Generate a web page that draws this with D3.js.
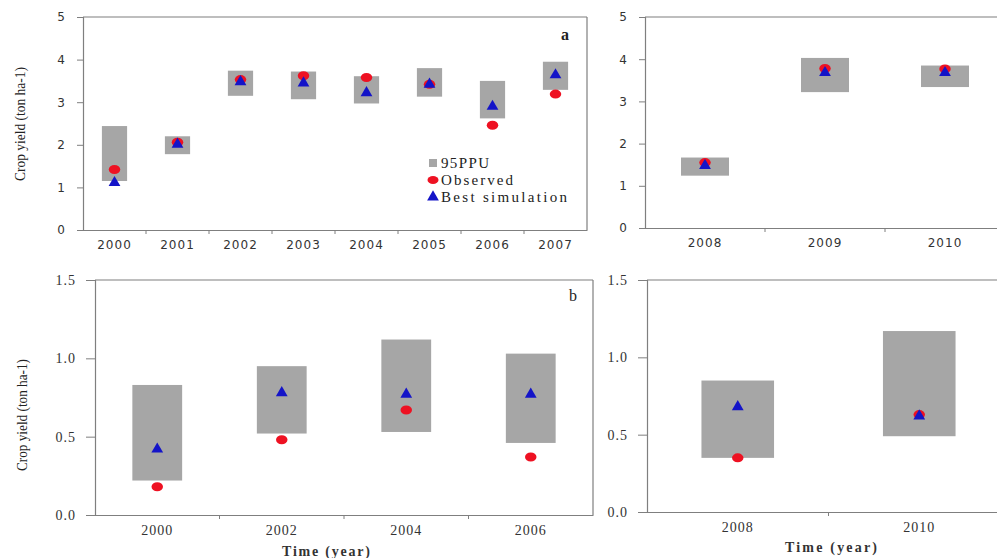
<!DOCTYPE html>
<html>
<head>
<meta charset="utf-8">
<script src="https://cdn.jsdelivr.net/npm/d3@7"></script>
<style>
  html, body { margin: 0; padding: 0; background: #fff; }
  svg { display: block; }
</style>
</head>
<body>
<svg id="chart" width="997" height="558"></svg>
<script>
// Panel a: crop yield 2000-2007 (calibration) and 2008-2010 (validation)
const yearsA1 = ["2000", "2001", "2002", "2003", "2004", "2005", "2006", "2007"];
const ppuLowA1 = [1.15, 1.78, 3.15, 3.07, 2.97, 3.13, 2.62, 3.29];
const ppuHighA1 = [2.44, 2.20, 3.74, 3.72, 3.61, 3.80, 3.50, 3.95];
const observedA1 = [1.42, 2.06, 3.53, 3.62, 3.58, 3.42, 2.46, 3.19];
const simulatedA1 = [1.11, 2.01, 3.48, 3.45, 3.22, 3.42, 2.90, 3.64];

const yearsA2 = ["2008", "2009", "2010"];
const ppuLowA2 = [1.24, 3.22, 3.34];
const ppuHighA2 = [1.67, 4.03, 3.85];
const observedA2 = [1.55, 3.78, 3.77];
const simulatedA2 = [1.48, 3.68, 3.68];

// Panel b: crop yield, even years
const yearsB1 = ["2000", "2002", "2004", "2006"];
const ppuLowB1 = [0.22, 0.52, 0.53, 0.46];
const ppuHighB1 = [0.83, 0.95, 1.12, 1.03];
const observedB1 = [0.18, 0.48, 0.67, 0.37];
const simulatedB1 = [0.42, 0.78, 0.77, 0.77];

const yearsB2 = ["2008", "2010"];
const ppuLowB2 = [0.35, 0.49];
const ppuHighB2 = [0.85, 1.17];
const observedB2 = [0.35, 0.63];
const simulatedB2 = [0.68, 0.62];

const ticksA = [0, 1, 2, 3, 4, 5];
const ticksB = [0, 0.5, 1.0, 1.5];

const legendLabels = ["95PPU", "Observed", "Best simulation"];
const yTitle = "Crop yield (ton ha-1)";
const xTitle = "Time (year)";

const COLORS = { box: "#a6a6a6", obs: "#ee1122", sim: "#1414c8", axis: "#7f7f7f", text: "#333" };

const svg = d3.select("#chart");

function panel(cfg) {
  const g = svg.append("g");
  const x = d3.scaleBand().domain(cfg.years).range(cfg.xr).padding(0);
  const y = d3.scaleLinear().domain(cfg.ydomain).range(cfg.yr);
  const boxW = x.bandwidth() * 0.4;
  const rows = cfg.years.map((yr, i) => ({
    yr, lo: cfg.lo[i], hi: cfg.hi[i], obs: cfg.obs[i], sim: cfg.sim[i]
  }));

  // frame: top and right edges
  g.append("line").attr("x1", cfg.xr[0]).attr("x2", cfg.xr[1])
    .attr("y1", cfg.yr[1]).attr("y2", cfg.yr[1])
    .attr("stroke", COLORS.axis).attr("stroke-width", 1.2);
  g.append("line").attr("x1", cfg.xr[1]).attr("x2", cfg.xr[1])
    .attr("y1", cfg.yr[1]).attr("y2", cfg.yr[0])
    .attr("stroke", COLORS.axis).attr("stroke-width", 1.2);

  // 95PPU bands
  g.selectAll("rect.ppu").data(rows).enter().append("rect")
    .attr("class", "ppu")
    .attr("x", d => x(d.yr) + x.bandwidth() / 2 - boxW / 2)
    .attr("width", boxW)
    .attr("y", d => y(d.hi))
    .attr("height", d => y(d.lo) - y(d.hi))
    .attr("fill", COLORS.box);

  // observed
  g.selectAll("ellipse.obs").data(rows).enter().append("ellipse")
    .attr("class", "obs")
    .attr("cx", d => x(d.yr) + x.bandwidth() / 2)
    .attr("cy", d => y(d.obs))
    .attr("rx", cfg.mr * 1.15).attr("ry", cfg.mr * 0.9)
    .attr("fill", COLORS.obs);

  // best simulation
  const tri = d3.symbol().type(d3.symbolTriangle).size(cfg.ts);
  g.selectAll("path.sim").data(rows).enter().append("path")
    .attr("class", "sim")
    .attr("d", tri)
    .attr("transform", d => `translate(${x(d.yr) + x.bandwidth() / 2},${y(d.sim)})`)
    .attr("fill", COLORS.sim);

  // y axis
  const ya = g.append("g").attr("transform", `translate(${cfg.xr[0]},0)`)
    .call(d3.axisLeft(y).tickValues(cfg.ticks).tickFormat(d3.format(cfg.fmt))
      .tickSize(cfg.tickLen).tickPadding(cfg.tickPad));
  ya.select(".domain").attr("stroke", COLORS.axis).attr("stroke-width", 1.2);
  ya.selectAll(".tick line").attr("stroke", COLORS.axis);
  ya.selectAll(".tick text").attr("fill", COLORS.text)
    .style("font-family", cfg.tickFont).style("font-size", cfg.tickSize + "px")
    .style("letter-spacing", cfg.tickSpacing + "px");

  // x axis: labels at band centres, tick marks at band boundaries
  const xa = g.append("g").attr("transform", `translate(0,${cfg.yr[0]})`)
    .call(d3.axisBottom(x).tickSize(0).tickPadding(cfg.xPad).tickSizeOuter(0));
  xa.select(".domain").attr("stroke", COLORS.axis).attr("stroke-width", 1.2);
  xa.selectAll(".tick text").attr("fill", COLORS.text)
    .style("font-family", cfg.tickFont).style("font-size", cfg.tickSize + "px")
    .style("letter-spacing", cfg.tickSpacing + "px");
  xa.selectAll("line.bound").data(cfg.years.slice(1)).enter().append("line")
    .attr("class", "bound")
    .attr("x1", d => x(d)).attr("x2", d => x(d))
    .attr("y1", 0).attr("y2", 4)
    .attr("stroke", COLORS.axis);

  return { g, x, y };
}

const topCommon = {
  ydomain: [0, 5], ticks: ticksA, fmt: "d", tickLen: 6, tickPad: 11,
  tickFont: "DejaVu Sans", tickSize: 12, tickSpacing: 1, xPad: 10
};
const botCommon = {
  ydomain: [0, 1.5], ticks: ticksB, fmt: ".1f", tickLen: 9, tickPad: 10,
  tickFont: "Liberation Serif", tickSize: 14, tickSpacing: 1, xPad: 10
};

const pA1 = panel(Object.assign({}, topCommon, {
  years: yearsA1, lo: ppuLowA1, hi: ppuHighA1, obs: observedA1, sim: simulatedA1,
  xr: [83, 587], yr: [230, 17], mr: 5, ts: 60
}));
const pA2 = panel(Object.assign({}, topCommon, {
  years: yearsA2, lo: ppuLowA2, hi: ppuHighA2, obs: observedA2, sim: simulatedA2,
  xr: [645, 1005], yr: [228, 17], mr: 5, ts: 60
}));
const pB1 = panel(Object.assign({}, botCommon, {
  years: yearsB1, lo: ppuLowB1, hi: ppuHighB1, obs: observedB1, sim: simulatedB1,
  xr: [95, 593], yr: [515, 280], mr: 5, ts: 60
}));
const pB2 = panel(Object.assign({}, botCommon, {
  years: yearsB2, lo: ppuLowB2, hi: ppuHighB2, obs: observedB2, sim: simulatedB2,
  xr: [647, 1010], yr: [512, 280], mr: 5, ts: 60
}));

// panel letters
svg.append("text").attr("x", 565).attr("y", 40).text("a")
  .style("font-family", "Liberation Serif").style("font-size", "16px")
  .style("font-weight", "bold").attr("fill", "#222").attr("text-anchor", "middle");
svg.append("text").attr("x", 573).attr("y", 301).text("b")
  .style("font-family", "Liberation Serif").style("font-size", "16px")
  .attr("fill", "#222").attr("text-anchor", "middle");

// y axis titles
function yTitleAt(cx, cy, len) {
  svg.append("text")
    .attr("transform", `translate(${cx},${cy}) rotate(-90)`)
    .attr("text-anchor", "middle").attr("dy", "0.35em")
    .attr("textLength", len).attr("lengthAdjust", "spacingAndGlyphs")
    .style("font-family", "Liberation Serif").style("font-size", "14px")
    .attr("fill", "#222").text(yTitle);
}
yTitleAt(20, 124, 114);
yTitleAt(22, 415, 112);

// x axis titles
function xTitleAt(cx, cy, len) {
  svg.append("text").attr("x", cx).attr("y", cy)
    .attr("text-anchor", "middle").attr("dy", "0.35em")
    .attr("textLength", len).attr("lengthAdjust", "spacing")
    .style("font-family", "Liberation Serif").style("font-size", "14px")
    .style("font-weight", "bold")
    .attr("fill", "#333").text(xTitle);
}
xTitleAt(326, 551, 88);
xTitleAt(831, 547, 92);

// legend
const legend = svg.append("g").attr("transform", "translate(433,0)");
const legendY = [163, 180, 197];
legend.append("rect").attr("x", -4).attr("y", legendY[0] - 4).attr("width", 8).attr("height", 8)
  .attr("fill", COLORS.box);
legend.append("ellipse").attr("cx", 0).attr("cy", legendY[1]).attr("rx", 5.5).attr("ry", 4)
  .attr("fill", COLORS.obs);
legend.append("path").attr("d", d3.symbol().type(d3.symbolTriangle).size(60))
  .attr("transform", `translate(0,${legendY[2]})`).attr("fill", COLORS.sim);
const legendLen = [48, 72, 126];
legend.selectAll("text.lg").data(legendLabels).enter().append("text")
  .attr("class", "lg")
  .attr("x", 8).attr("y", (d, i) => legendY[i]).attr("dy", "0.35em")
  .attr("textLength", (d, i) => legendLen[i]).attr("lengthAdjust", "spacing")
  .style("font-family", "Liberation Serif").style("font-size", "15px")
  .attr("fill", "#222").text(d => d);
</script>
</body>
</html>
